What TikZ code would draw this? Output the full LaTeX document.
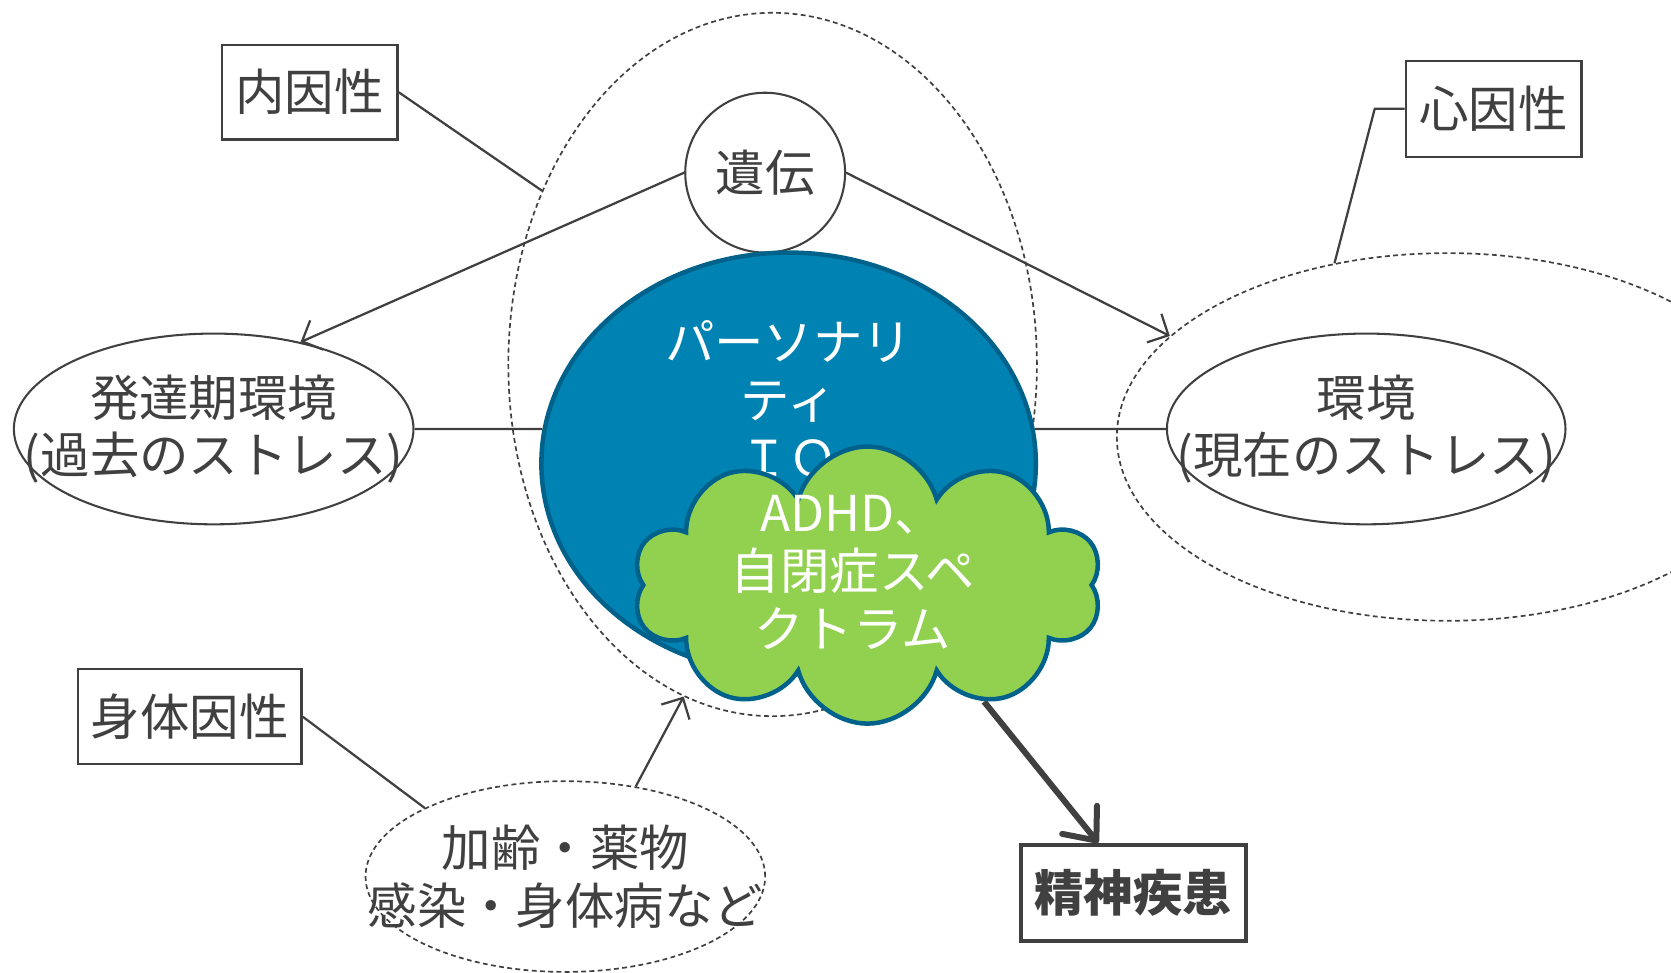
\documentclass[tikz,border=0pt]{standalone}
\usepackage{fontspec}
\setmainfont{Noto Sans CJK JP}
\usepackage{tikz}
\usetikzlibrary{shapes.geometric, shapes.symbols, arrows.meta, backgrounds}
\definecolor{inkgray}{RGB}{64,64,64}
\definecolor{persblue}{RGB}{0,131,179}
\definecolor{edgeblue}{RGB}{0,98,138}
\definecolor{asdgreen}{RGB}{146,208,80}
\tikzset{
  jtext/.style={font=\fontsize{13.2}{15.4}\selectfont, text=inkgray, align=center},
  factorbox/.style={jtext, draw=inkgray, line width=0.6pt, inner sep=0pt},
  zone/.style={ellipse, draw=inkgray, line width=0.45pt, dash pattern=on 1.3pt off 0.9pt, inner sep=0pt},
  stressellipse/.style={ellipse, draw=inkgray, line width=0.55pt, inner sep=0pt},
  link/.style={draw=inkgray, line width=0.6pt},
  linkarrow/.style={link, -{Straight Barb[length=1.5mm,width=3mm]}},
}

\begin{document}
\begin{tikzpicture}[x=0.1mm, y=-0.1mm]
\useasboundingbox (0,0) rectangle (1568,913);

% dashed zones
\node[zone, minimum width=49.6mm, minimum height=66mm] (endo) at (725,342) {};
\node[zone, minimum width=62mm, minimum height=34.5mm] (psy) at (1358,410) {};
\node[zone, minimum width=37.5mm, minimum height=17.9mm,
      label={[jtext]center:加齢・薬物\\感染・身体病など}] (soma) at (530.5,822.5) {};

% labels
\node[factorbox, minimum width=16.5mm, minimum height=8.9mm] (naiin) at (290.5,86.5) {内因性};
\node[factorbox, minimum width=16.5mm, minimum height=9mm] (shinin) at (1401.5,102) {心因性};
\node[factorbox, minimum width=21mm, minimum height=8.9mm] (shintai) at (178,672.5) {身体因性};
\node[factorbox, line width=1.2pt, minimum width=21.1mm, minimum height=9mm,
      font=\fontsize{13.2}{15.4}\selectfont\bfseries] (illness) at (1063.5,838) {精神疾患};

% factors
\node[jtext, circle, draw=inkgray, line width=0.55pt, minimum size=15mm, inner sep=0pt] (iden) at (718,162) {遺伝};
\node[stressellipse, minimum width=37.5mm, minimum height=17.9mm,
      label={[jtext]center:発達期環境\\(過去のストレス)}] (past) at (200.5,402.5) {};
\node[stressellipse, minimum width=37.4mm, minimum height=17.9mm,
      label={[jtext]center:環境\\(現在のストレス)}] (env) at (1282,402.5) {};

% personality
\node[ellipse, fill=persblue, draw=edgeblue, line width=1.2pt, minimum width=46.4mm,
      minimum height=39.6mm, inner sep=0pt] (pers) at (740,435) {};
\node[jtext, text=white] (perslabel) at (740,378) {パーソナリ\\ティ\\ＩＱ};

% developmental
\node[cloud, cloud puffs=10, aspect=1.7, fill=asdgreen, draw=edgeblue, line width=1.2pt,
      minimum width=44mm, minimum height=26mm] (asd) at (814,549) {};
\node[jtext, text=white] (asdlabel) at (800,537) {ADHD、\\自閉症スペ\\クトラム};

% connectors
\draw[link] (naiin.east) -- (endo.143);
\coordinate (bend) at (1290,102);
\draw[link] (shinin.west) -- (bend) -- (psy.123);
\draw[link] (shintai.east) -- (soma.154);
\draw[linkarrow] (iden.west) -- (past.45);
\draw[linkarrow] (iden.east) -- (psy.160);
\draw[link] (past.east) -- (pers.172);
\draw[link] (pers.8) -- (env.west);
\draw[linkarrow] (soma.52) -- (endo.255);
\begin{scope}[on background layer]
\draw[link, line width=1.6pt, -{Straight Barb[round, length=2.5mm, width=4.2mm]}] (asd.-45) -- (illness.125);
\end{scope}

\end{tikzpicture}
\end{document}
